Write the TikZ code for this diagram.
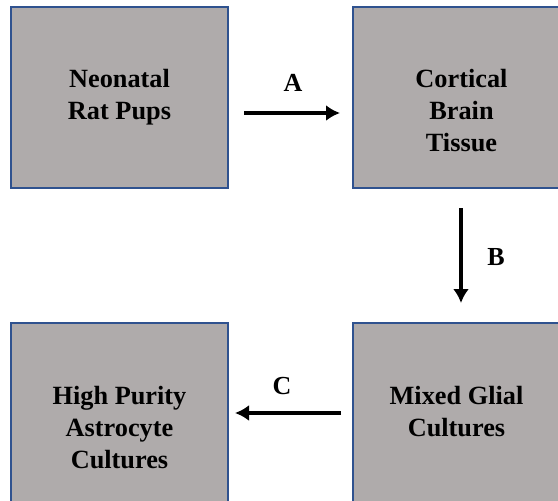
\documentclass[tikz,border=0pt]{standalone}
\usepackage{fontspec}
\setmainfont{Liberation Serif}
\usetikzlibrary{positioning,arrows.meta}
\definecolor{boxgray}{HTML}{AFABAB}
\definecolor{boxline}{HTML}{2F528F}
\tikzset{>={Latex[length=14pt,width=16pt]}}
\tikzset{
  stage/.style={draw=boxline, line width=1.3pt, fill=boxgray, minimum width=217pt, minimum height=181pt, inner sep=0pt},
  stagetext/.style={align=center, inner sep=0pt, anchor=north, font=\fontsize{26.3}{31.7}\selectfont\bfseries},
  flow/.style={->, line width=4.5pt},
  flowlabel/.style={inner sep=0pt, font=\fontsize{26}{30}\selectfont\bfseries}
}

\begin{document}
\begin{tikzpicture}[x=1pt, y=-1pt]
      \path[use as bounding box, clip] (0,0) rectangle (558,501);
      % the four stages
      \node[stage] (pups) at (119.5,97.5) {};
      \node[stage] (tissue) at (461.5,97.5) {};
      \node[stage] (mixed) at (461.5,413.5) {};
      \node[stage] (astro) at (119.5,413.5) {};
      \node[stagetext, below=63pt of pups.north] (tpups) {Neonatal\\Rat Pups};
      \node[stagetext, below=63pt of tissue.north] (ttissue) {Cortical\\Brain\\Tissue};
      \node[stagetext, below=64pt of mixed.north, xshift=-5pt] (tmixed) {Mixed Glial\\Cultures};
      \node[stagetext, below=64pt of astro.north] (tastro) {High Purity\\Astrocyte\\Cultures};
      % arrow ends
      \coordinate (a0) at (244,113);
      \coordinate (a1) at (340,113);
      \coordinate (b0) at (461,208);
      \coordinate (b1) at (461,303);
      \coordinate (c0) at (341,413);
      \coordinate (c1) at (235,413);
      \draw[flow] (a0) to (a1);
      \draw[flow] (b0) to (b1);
      \draw[flow] (c0) to (c1);
      \node[flowlabel] (la) at (293,82.5) {A};
      \node[flowlabel] (lb) at (496,257) {B};
      \node[flowlabel] (lc) at (282,386) {C};
    \end{tikzpicture}
\end{document}
